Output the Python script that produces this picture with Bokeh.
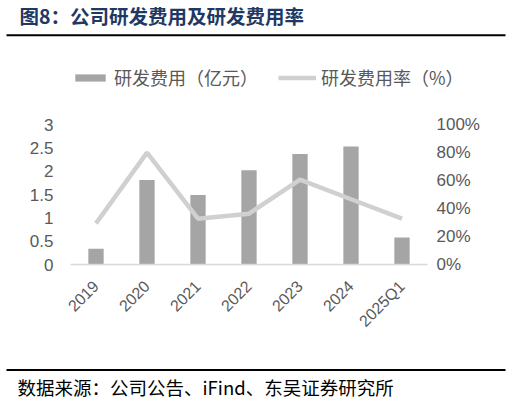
import math
from bokeh.plotting import figure
from bokeh.layouts import column
from bokeh.models import (FactorRange, Range1d, LinearAxis, FixedTicker, NumeralTickFormatter,
                          PrintfTickFormatter, Legend, LegendItem, Label, BoxAnnotation, ColumnDataSource)
from bokeh.embed import file_html
from bokeh.resources import INLINE

categories = ["2019", "2020", "2021", "2022", "2023", "2024", "2025Q1"]
rd_expense = [0.34, 1.81, 1.49, 2.02, 2.37, 2.53, 0.58]      # 亿元
rd_rate = [29.4, 79.9, 32.7, 36.3, 60.6, 46.6, 32.7]          # %
left_ticks = [0, 0.5, 1, 1.5, 2, 2.5, 3]
right_ticks = [0, 20, 40, 60, 80, 100]

title_text = "图8：公司研发费用及研发费用率"
legend_bar = "研发费用（亿元）"
legend_line = "研发费用率（%）"
source_text = "数据来源：公司公告、iFind、东吴证券研究所"

W = 510
cjk = "Noto Sans CJK SC"
tick_font = "Liberation Sans"
grey = "#595959"
bar_color = "#A5A5A5"
line_color = "#D0D0D0"


def blank(height, y_top, y_bottom):
    f = figure(width=W, height=height, x_range=Range1d(0, W), y_range=Range1d(y_bottom, y_top),
               x_axis_type=None, y_axis_type=None, output_backend="svg", toolbar_location=None,
               min_border=0, frame_align=False)
    f.outline_line_color = None
    f.xgrid.grid_line_color = None
    f.ygrid.grid_line_color = None
    f.background_fill_color = "white"
    f.border_fill_color = "white"
    return f


# ---- header: title, rule and legend ----
head = blank(100, 0, 100)
head.add_layout(Label(x=19, y=15, text=title_text, text_font=cjk, text_font_style="bold",
                      text_font_size="19.5px", text_color="#1F3864", text_baseline="middle"))
head.add_layout(BoxAnnotation(left=6, right=505, top=33.7, bottom=35.7,
                              fill_color="black", fill_alpha=1, line_color=None))
# hidden proxies of the two series, used only to draw the legend swatches
idx = list(range(len(categories)))
lg_bar = head.vbar(x=idx, top=rd_expense, width=0.3, fill_color=bar_color, line_color=None, visible=False)
lg_line = head.line(x=idx, y=rd_rate, line_color=line_color, line_width=4.5, visible=False)
legend = Legend(items=[LegendItem(label=legend_bar, renderers=[lg_bar]),
                       LegendItem(label=legend_line, renderers=[lg_line])],
                orientation="horizontal", location=(71, 10),
                glyph_width=38, glyph_height=9, label_standoff=5, spacing=20, padding=0, margin=0,
                border_line_color=None, background_fill_alpha=0, inactive_fill_alpha=0,
                label_text_font=cjk, label_text_font_size="18px",
                label_text_color=grey, label_height=20)
head.add_layout(legend, "center")

# ---- main chart ----
src = ColumnDataSource(dict(cat=categories, exp=rd_expense, rate=rd_rate))

p = figure(width=W, height=256, x_range=FactorRange(*categories, range_padding=0),
           y_range=Range1d(0, 3), output_backend="svg", toolbar_location=None,
           min_border_left=70, min_border_right=83, min_border_top=24, min_border_bottom=92,
           frame_align=False)
p.extra_y_ranges = {"pct": Range1d(0, 100)}
p.outline_line_color = None
p.xgrid.grid_line_color = None
p.ygrid.grid_line_color = None
p.background_fill_color = "white"
p.border_fill_color = "white"

yax = p.yaxis[0]
yax.ticker = FixedTicker(ticks=left_ticks)
yax.formatter = NumeralTickFormatter(format="0.[0]")
yax.axis_line_color = None
yax.major_tick_line_color = None
yax.minor_tick_line_color = None
yax.major_label_standoff = 11
yax.major_label_text_font = tick_font
yax.major_label_text_font_size = "17px"
yax.major_label_text_color = grey

rax = LinearAxis(y_range_name="pct", ticker=FixedTicker(ticks=right_ticks),
                 formatter=PrintfTickFormatter(format="%d%%"))
rax.axis_line_color = None
rax.major_tick_line_color = None
rax.minor_tick_line_color = None
rax.major_label_standoff = 3
rax.major_label_text_font = tick_font
rax.major_label_text_font_size = "17px"
rax.major_label_text_color = grey
p.add_layout(rax, "right")

xax = p.xaxis[0]
xax.axis_line_color = "#D9D9D9"
xax.axis_line_width = 1.5
xax.major_tick_line_color = None
xax.minor_tick_line_color = None
xax.major_label_orientation = math.pi / 4
xax.major_label_standoff = 13
xax.major_label_text_font = tick_font
xax.major_label_text_font_size = "16px"
xax.major_label_text_color = grey

p.vbar(x="cat", top="exp", width=0.3, source=src, fill_color=bar_color, line_color=None)
p.line(x="cat", y="rate", source=src, y_range_name="pct", line_color=line_color, line_width=4.5)

# ---- footer ----
foot = blank(47, 356, 403)
foot.add_layout(BoxAnnotation(left=6, right=505, top=368.5, bottom=370.5,
                              fill_color="black", fill_alpha=1, line_color=None))
foot.add_layout(Label(x=17, y=386, text=source_text, text_font=cjk, text_font_size="18.5px",
                      text_color="#000000", text_baseline="middle"))

layout = column(head, p, foot, spacing=0)
open("out.html", "w").write(file_html(layout, INLINE))
